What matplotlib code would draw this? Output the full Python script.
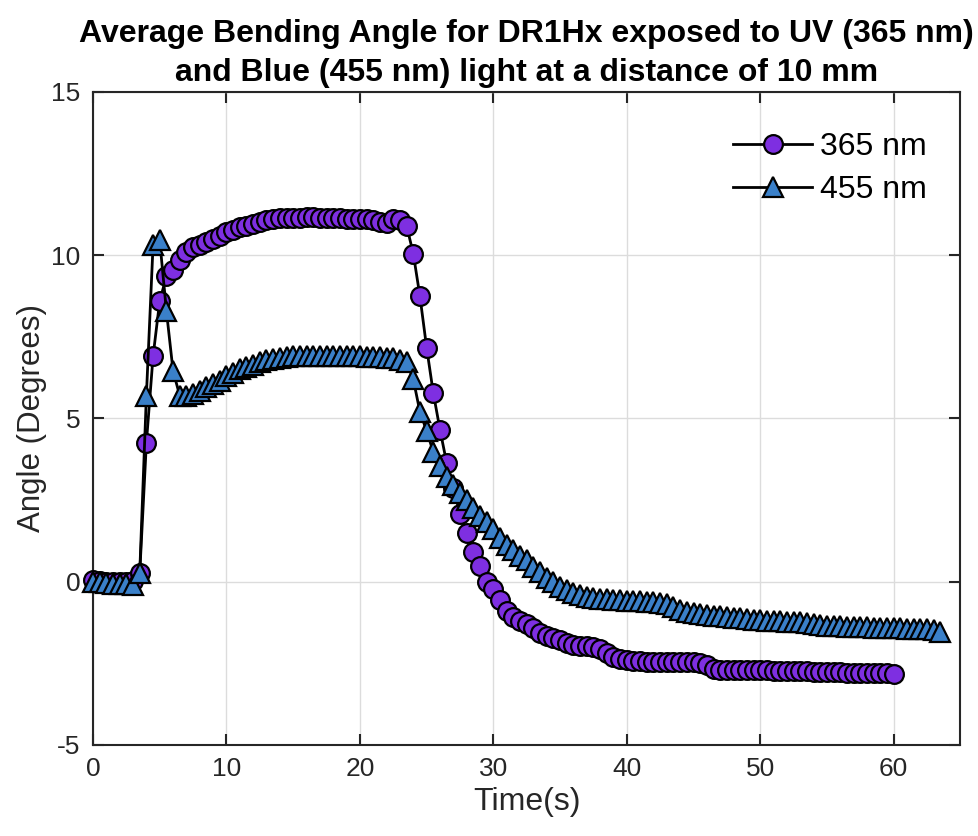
import numpy as np
import matplotlib
matplotlib.use("Agg")
import matplotlib.pyplot as plt

plt.rcParams['font.family'] = ['Liberation Sans', 'DejaVu Sans']

# Sampling clock: one reading every 0.5 s
time_365 = np.arange(0, 60.01, 0.5)
time_455 = np.arange(0, 63.51, 0.5)

angle_365 = [
    0.05, 0.02, 0.00, 0.00, 0.00, 0.00, 0.02, 0.25, 4.25, 6.90,
    8.60, 9.35, 9.55, 9.85, 10.10, 10.25, 10.30, 10.40, 10.50, 10.60,
    10.70, 10.78, 10.85, 10.90, 10.96, 11.02, 11.08, 11.12, 11.13, 11.14,
    11.15, 11.15, 11.16, 11.16, 11.15, 11.15, 11.14, 11.13, 11.12, 11.11,
    11.10, 11.10, 11.08, 11.02, 11.00, 11.10, 11.08, 10.90, 10.05, 8.74,
    7.17, 5.78, 4.66, 3.64, 2.87, 2.08, 1.49, 0.92, 0.47, 0.00,
    -0.22, -0.55, -0.90, -1.07, -1.20, -1.30, -1.42, -1.58, -1.66, -1.74,
    -1.80, -1.88, -1.95, -1.98, -1.98, -2.00, -2.05, -2.20, -2.30, -2.36,
    -2.40, -2.42, -2.44, -2.45, -2.45, -2.46, -2.46, -2.46, -2.46, -2.46,
    -2.46, -2.48, -2.55, -2.68, -2.72, -2.72, -2.71, -2.70, -2.70, -2.70,
    -2.71, -2.72, -2.73, -2.73, -2.74, -2.75, -2.75, -2.75, -2.76, -2.76,
    -2.77, -2.78, -2.78, -2.79, -2.79, -2.80, -2.80, -2.80, -2.81, -2.81,
    -2.82,
]

angle_455 = [
    0.00, -0.02, -0.05, -0.07, -0.08, -0.08, -0.10, 0.25, 5.70, 10.30,
    10.45, 8.30, 6.45, 5.70, 5.70, 5.75, 5.85, 5.95, 6.05, 6.15,
    6.30, 6.40, 6.50, 6.58, 6.65, 6.72, 6.78, 6.82, 6.86, 6.88,
    6.90, 6.90, 6.91, 6.91, 6.90, 6.90, 6.91, 6.90, 6.90, 6.90,
    6.90, 6.89, 6.89, 6.88, 6.86, 6.84, 6.80, 6.74, 6.20, 5.20,
    4.62, 3.97, 3.55, 3.20, 2.95, 2.72, 2.50, 2.25, 2.00, 1.82,
    1.60, 1.35, 1.12, 0.98, 0.80, 0.65, 0.45, 0.30, 0.12, 0.00,
    -0.15, -0.25, -0.35, -0.42, -0.47, -0.50, -0.52, -0.53, -0.55, -0.56,
    -0.58, -0.60, -0.60, -0.62, -0.63, -0.65, -0.68, -0.78, -0.88, -0.93,
    -0.97, -1.00, -1.02, -1.04, -1.06, -1.08, -1.10, -1.12, -1.14, -1.16,
    -1.18, -1.20, -1.21, -1.22, -1.23, -1.24, -1.25, -1.28, -1.31, -1.33,
    -1.35, -1.36, -1.37, -1.38, -1.39, -1.40, -1.40, -1.41, -1.42, -1.42,
    -1.43, -1.43, -1.44, -1.44, -1.45, -1.46, -1.47, -1.53,
]

series_labels = ['365 nm', '455 nm']
x_ticks = [0, 10, 20, 30, 40, 50, 60]
y_ticks = [-5, 0, 5, 10, 15]

purple = '#7E2FE1'
blue = '#3A80C9'
axis_gray = '#262626'

fig = plt.figure(figsize=(9.79, 8.36), dpi=100)
ax = fig.add_axes([0.095, 0.109, 0.886, 0.781])

ax.plot(time_365, angle_365, '-', color='black', lw=2.0, marker='o',
        markersize=13.5, markerfacecolor=purple, markeredgecolor='black',
        markeredgewidth=1.6, label=series_labels[0], clip_on=False, zorder=3)
ax.plot(time_455, angle_455, '-', color='black', lw=2.0, marker='^',
        markersize=14, markerfacecolor=blue, markeredgecolor='black',
        markeredgewidth=1.6, label=series_labels[1], clip_on=False, zorder=3)

ax.set_xlim(0, 65)
ax.set_ylim(-5, 15)
ax.set_xticks(x_ticks)
ax.set_yticks(y_ticks)
ax.set_yticklabels([str(v) for v in y_ticks])

ax.grid(True, color='#DCDCDC', linewidth=1.0)
ax.set_axisbelow(True)
for side in ax.spines.values():
    side.set_color(axis_gray)
    side.set_linewidth(1.5)
ax.tick_params(direction='in', length=8, width=1.5, color=axis_gray,
               labelcolor=axis_gray, labelsize=19, top=True, right=True, pad=9)

ax.set_xlabel('Time(s)', fontsize=23, color=axis_gray, labelpad=4)
ax.set_ylabel('Angle (Degrees)', fontsize=22.5, color=axis_gray, labelpad=3)
ax.set_title('Average Bending Angle for DR1Hx exposed to UV (365 nm)\n'
             'and Blue (455 nm) light at a distance of 10 mm',
             fontsize=23, fontweight='bold', color='black', pad=8,
             linespacing=1.38)

leg = ax.legend(loc='upper right', frameon=False, fontsize=23,
                bbox_to_anchor=(0.984, 0.968), handlelength=2.5,
                handletextpad=0.25, labelspacing=0.42, borderaxespad=0.2)

fig.savefig('out.png', dpi=100)
